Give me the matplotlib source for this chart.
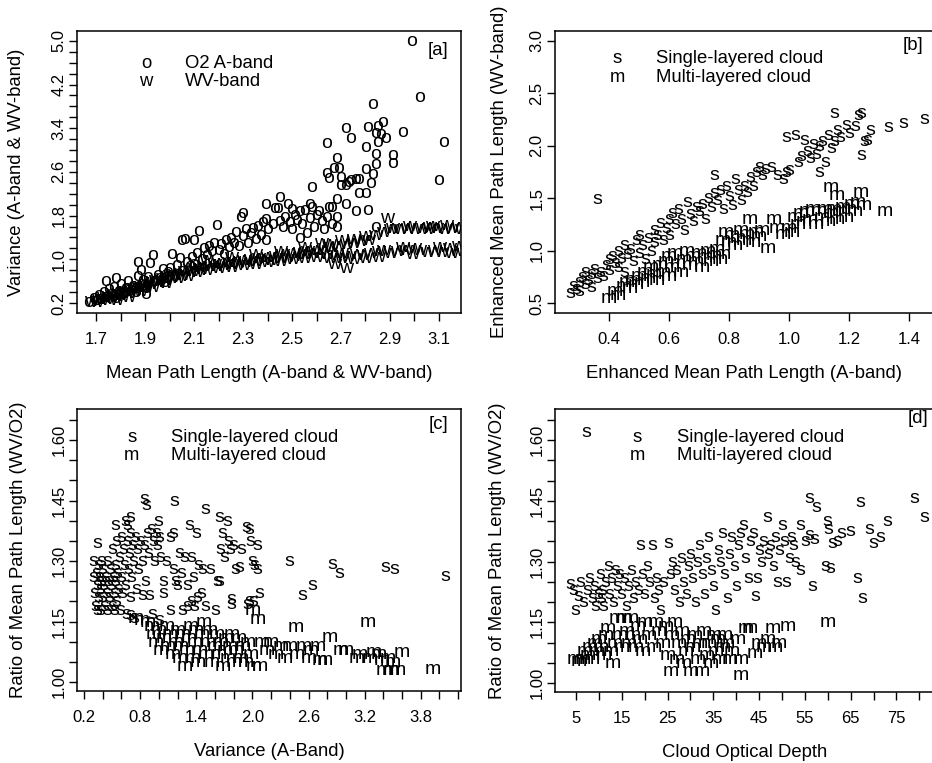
import numpy as np
import matplotlib
matplotlib.use("Agg")
import matplotlib.pyplot as plt
import matplotlib.transforms as mtransforms
from matplotlib.ticker import FixedLocator, NullFormatter

plt.rcParams['font.family'] = ['Liberation Sans', 'DejaVu Sans']

# ---------------- Panel [a] data ----------------
a_o2 = [(1.67,0.22),(1.69,0.30),(1.70,0.25),(1.71,0.35),(1.72,0.28),(1.73,0.40),(1.74,0.32),(1.74,0.60),
        (1.75,0.45),(1.76,0.36),(1.77,0.50),(1.78,0.66),(1.78,0.30),(1.79,0.42),(1.80,0.55),(1.81,0.38),
        (1.82,0.48),(1.83,0.60),(1.84,0.44),(1.85,0.52),(1.86,0.40),(1.87,0.95),(1.87,0.70),(1.88,0.80),
        (1.88,0.55),(1.89,0.62),(1.90,0.48),(1.90,0.36),(1.91,0.68),(1.92,0.93),(1.93,1.08),(1.94,0.60),
        (1.95,0.72),(1.96,0.66),(1.97,0.82),(1.98,0.58),(1.99,0.76),(2.00,0.85),(2.01,1.10),(2.02,0.70),
        (2.03,0.90),(2.04,1.02),(2.05,1.35),(2.05,0.78),(2.06,1.38),(2.07,0.95),(2.08,0.88),(2.09,1.05),
        (2.10,1.35),(2.10,0.92),(2.11,1.12),(2.12,1.52),(2.13,1.00),(2.14,1.20),(2.15,1.08),(2.16,1.25),
        (2.17,1.15),(2.18,1.30),(2.19,1.63),(2.20,1.18),(2.21,1.28),(2.22,1.10),(2.23,1.35),(2.24,1.22),
        (2.25,1.40),(2.26,1.30),(2.27,1.50),(2.28,1.25),(2.29,1.78),(2.30,1.84),(2.30,1.42),(2.31,1.55),
        (2.32,1.30),(2.33,1.48),(2.34,1.58),(2.35,1.38),(2.36,1.62),(2.37,1.45),(2.38,1.68),(2.39,1.74),
        (2.39,2.01),(2.39,1.35),(2.40,1.55),(2.42,1.65),(2.43,1.94),(2.44,1.94),(2.45,2.14),(2.45,1.70),
        (2.46,1.60),(2.47,1.78),(2.48,2.01),(2.49,1.68),(2.50,1.92),(2.50,1.55),(2.51,1.82),(2.52,1.72),
        (2.53,1.40),(2.53,1.88),(2.54,1.65),(2.55,1.90),(2.56,1.48),(2.57,2.01),(2.57,1.75),(2.58,1.96),
        (2.58,2.33),(2.59,1.60),(2.60,1.82),(2.61,1.89),(2.62,1.70),(2.63,1.55),(2.64,3.13),(2.64,2.58),
        (2.64,1.78),(2.65,2.49),(2.65,1.96),(2.66,1.96),(2.66,1.65),(2.67,2.67),(2.68,2.86),(2.68,2.10),
        (2.68,1.78),(2.68,1.59),(2.69,2.67),(2.70,2.51),(2.70,2.36),(2.72,3.40),(2.72,2.36),(2.72,2.01),
        (2.73,2.42),(2.74,3.22),(2.74,2.45),(2.76,2.48),(2.76,1.89),(2.77,2.47),(2.77,2.21),(2.80,3.06),
        (2.80,2.65),(2.80,2.21),(2.81,3.42),(2.81,1.90),(2.82,2.40),(2.83,3.85),(2.83,2.56),(2.84,3.31),
        (2.84,2.93),(2.84,2.75),(2.84,1.60),(2.85,3.44),(2.85,3.15),(2.86,3.29),(2.87,3.51),(2.88,3.22),
        (2.91,2.91),(2.91,2.76),(2.95,3.33),(2.99,5.00),(3.02,3.97),(3.10,2.45),(3.12,3.15)]

a_wv = [(1.68,0.24),(1.70,0.22),(1.71,0.28),(1.72,0.26),(1.73,0.31),(1.74,0.28),(1.75,0.33),(1.76,0.30),
        (1.77,0.36),(1.78,0.33),(1.78,0.26),(1.79,0.38),(1.80,0.35),(1.81,0.40),(1.82,0.42),(1.83,0.39),
        (1.83,0.32),(1.84,0.45),(1.85,0.47),(1.86,0.44),(1.87,0.50),(1.88,0.52),(1.88,0.42),(1.89,0.49),
        (1.90,0.55),(1.91,0.58),(1.92,0.54),(1.93,0.60),(1.93,0.50),(1.94,0.62),(1.95,0.59),(1.96,0.64),
        (1.97,0.66),(1.98,0.63),(1.98,0.56),(1.99,0.69),(2.00,0.71),(2.01,0.68),(2.02,0.74),(2.03,0.65),
        (2.04,0.76),(2.05,0.72),(2.06,0.79),(2.07,0.70),(2.08,0.82),(2.09,0.78),(2.10,0.84),(2.11,0.76),
        (2.12,0.86),(2.13,0.83),(2.14,0.88),(2.15,0.80),(2.15,0.98),(2.16,0.87),(2.18,0.91),(2.19,0.88),
        (2.20,0.93),(2.20,0.84),(2.22,0.90),(2.24,0.95),(2.25,0.92),(2.25,0.86),(2.25,1.04),(2.26,0.97),
        (2.28,0.94),(2.30,0.99),(2.30,0.90),(2.31,0.96),(2.33,1.01),(2.35,0.97),(2.35,0.92),(2.35,1.10),
        (2.36,1.03),(2.38,1.00),(2.40,1.05),(2.40,0.95),(2.41,0.99),(2.43,1.07),(2.45,1.03),(2.45,0.97),
        (2.45,1.16),(2.46,1.09),(2.48,1.05),(2.50,1.11),(2.50,1.00),(2.51,1.07),(2.53,1.13),(2.55,1.09),
        (2.55,1.02),(2.55,1.22),(2.56,1.15),(2.58,1.11),(2.60,1.17),(2.60,1.05),(2.61,1.12),(2.62,1.30),
        (2.63,1.20),(2.64,1.10),(2.65,1.02),(2.65,1.28),(2.66,1.22),(2.67,0.92),(2.68,1.08),(2.69,1.25),
        (2.70,1.12),(2.70,1.02),(2.70,1.35),(2.72,0.85),(2.72,1.28),(2.73,1.06),(2.75,1.30),(2.75,1.00),
        (2.75,1.38),(2.76,1.10),(2.78,1.33),(2.79,1.08),(2.80,1.42),(2.80,1.03),(2.81,1.36),(2.82,1.12),
        (2.84,1.45),(2.85,1.15),(2.85,1.05),(2.87,1.50),(2.87,1.18),(2.89,1.75),(2.90,1.55),(2.90,1.12),
        (2.91,1.58),(2.93,1.15),(2.94,1.55),(2.95,1.22),(2.96,1.18),(2.97,1.58),(2.98,1.62),(2.99,1.10),
        (3.00,1.55),(3.00,1.20),(3.02,1.17),(3.03,1.58),(3.05,1.13),(3.05,1.55),(3.06,1.60),(3.07,1.62),
        (3.08,1.18),(3.09,1.57),(3.10,1.22),(3.11,1.14),(3.12,1.55),(3.13,1.63),(3.14,1.20),(3.15,1.58),
        (3.15,1.12),(3.17,1.16),(3.18,1.60),(3.18,1.24),(3.19,1.55)]

# ---------------- Panel [b] data ----------------
b_single = [(0.27,0.60),(0.28,0.66),(0.29,0.63),(0.30,0.70),(0.30,0.62),(0.31,0.75),(0.32,0.68),(0.32,0.80),
            (0.33,0.72),(0.34,0.78),(0.34,0.65),(0.35,0.83),(0.36,0.74),(0.36,1.49),(0.37,0.80),(0.38,0.76),
            (0.39,0.86),(0.40,0.92),(0.40,0.82),(0.41,0.95),(0.42,0.88),(0.43,1.00),(0.43,0.84),(0.44,0.93),
            (0.45,1.05),(0.45,0.80),(0.46,0.97),(0.47,1.02),(0.48,0.90),(0.49,1.10),(0.50,0.98),(0.50,1.15),
            (0.51,1.05),(0.52,0.92),(0.53,1.12),(0.54,1.00),(0.55,1.20),(0.55,1.08),(0.56,1.15),(0.57,1.26),
            (0.58,1.10),(0.59,1.22),(0.60,1.30),(0.60,1.15),(0.61,1.36),(0.62,1.25),(0.63,1.40),(0.64,1.30),
            (0.65,1.20),(0.66,1.46),(0.67,1.35),(0.68,1.28),(0.69,1.42),(0.70,1.38),(0.71,1.45),(0.72,1.30),
            (0.73,1.50),(0.74,1.42),(0.75,1.72),(0.75,1.55),(0.76,1.48),(0.77,1.58),(0.78,1.40),(0.79,1.62),
            (0.80,1.52),(0.81,1.44),(0.82,1.68),(0.83,1.58),(0.84,1.48),(0.85,1.62),(0.86,1.56),(0.87,1.70),
            (0.88,1.62),(0.89,1.75),(0.90,1.80),(0.91,1.72),(0.92,1.78),(0.94,1.80),(0.96,1.72),(0.98,1.68),
            (0.99,1.75),(0.99,2.08),(1.00,1.77),(1.02,2.10),(1.03,1.85),(1.04,1.90),(1.05,2.06),(1.06,1.95),
            (1.07,1.88),(1.08,2.02),(1.09,1.92),(1.10,1.75),(1.10,2.00),(1.11,2.05),(1.12,1.85),(1.13,2.10),
            (1.14,1.98),(1.15,2.31),(1.15,2.05),(1.16,2.15),(1.17,2.08),(1.19,2.20),(1.20,2.12),(1.22,2.19),
            (1.23,2.29),(1.24,2.31),(1.24,1.91),(1.25,2.05),(1.26,2.06),(1.27,2.15),(1.33,2.18),(1.38,2.22),
            (1.45,2.26)]

b_multi = [(0.40,0.55),(0.42,0.62),(0.43,0.58),(0.45,0.66),(0.46,0.70),(0.47,0.64),(0.48,0.72),(0.49,0.68),
           (0.50,0.76),(0.51,0.70),(0.52,0.80),(0.53,0.74),(0.54,0.84),(0.55,0.78),(0.56,0.72),(0.57,0.86),
           (0.58,0.80),(0.59,0.90),(0.60,0.76),(0.60,0.95),(0.61,0.84),(0.62,0.98),(0.63,0.88),(0.64,0.80),
           (0.65,0.92),(0.66,1.00),(0.67,0.86),(0.68,0.95),(0.69,0.90),(0.70,0.98),(0.71,0.84),(0.72,0.94),
           (0.73,1.00),(0.74,0.90),(0.75,0.96),(0.76,1.02),(0.77,0.92),(0.78,1.10),(0.78,0.97),(0.79,1.18),
           (0.80,1.08),(0.81,1.15),(0.82,1.05),(0.83,1.12),(0.84,1.20),(0.85,1.10),(0.86,1.16),(0.87,1.30),
           (0.88,1.08),(0.89,1.18),(0.90,1.14),(0.91,1.20),(0.93,1.03),(0.95,1.30),(0.96,1.22),(0.98,1.16),
           (1.00,1.22),(1.01,1.18),(1.02,1.32),(1.03,1.25),(1.04,1.36),(1.05,1.28),(1.06,1.38),(1.07,1.30),
           (1.08,1.40),(1.09,1.25),(1.10,1.38),(1.11,1.32),(1.12,1.40),(1.13,1.28),(1.14,1.36),(1.14,1.61),
           (1.15,1.40),(1.16,1.53),(1.16,1.30),(1.17,1.38),(1.18,1.42),(1.19,1.32),(1.20,1.40),(1.21,1.45),
           (1.22,1.38),(1.23,1.46),(1.24,1.56),(1.25,1.44),(1.32,1.38)]

# ---------------- Panel [c] data ----------------
c_single = [(0.30,1.30),(0.30,1.26),(0.31,1.22),(0.32,1.19),(0.33,1.27),(0.34,1.345),(0.34,1.18),(0.34,1.24),
            (0.35,1.21),(0.35,1.29),(0.36,1.26),(0.37,1.18),(0.37,1.23),(0.38,1.30),(0.39,1.25),(0.40,1.21),
            (0.40,1.28),(0.41,1.24),(0.42,1.19),(0.43,1.26),(0.44,1.22),(0.45,1.18),(0.45,1.30),(0.46,1.25),
            (0.47,1.21),(0.48,1.28),(0.49,1.24),(0.50,1.19),(0.50,1.33),(0.51,1.26),(0.52,1.18),(0.52,1.22),
            (0.53,1.39),(0.53,1.29),(0.54,1.25),(0.55,1.20),(0.55,1.35),(0.56,1.27),(0.57,1.23),(0.58,1.31),
            (0.59,1.18),(0.60,1.36),(0.60,1.26),(0.61,1.22),(0.62,1.33),(0.63,1.29),(0.64,1.40),(0.64,1.24),
            (0.65,1.17),(0.66,1.39),(0.66,1.35),(0.67,1.28),(0.68,1.32),(0.69,1.41),(0.69,1.21),(0.69,1.166),
            (0.70,1.37),(0.71,1.26),(0.72,1.34),(0.73,1.30),(0.74,1.16),(0.75,1.36),(0.76,1.23),(0.77,1.33),
            (0.78,1.28),(0.80,1.35),(0.82,1.30),(0.82,1.215),(0.84,1.455),(0.85,1.34),(0.86,1.25),(0.87,1.44),
            (0.88,1.37),(0.89,1.32),(0.90,1.215),(0.92,1.38),(0.93,1.17),(0.94,1.35),(0.95,1.30),(0.97,1.37),
            (0.98,1.34),(0.99,1.40),(1.00,1.36),(1.00,1.155),(1.02,1.31),(1.05,1.25),(1.05,1.22),(1.08,1.30),
            (1.12,1.36),(1.12,1.18),(1.15,1.28),(1.16,1.37),(1.17,1.45),(1.18,1.25),(1.20,1.24),(1.22,1.32),
            (1.24,1.27),(1.25,1.18),(1.27,1.31),(1.30,1.24),(1.30,1.19),(1.33,1.39),(1.35,1.31),(1.35,1.20),
            (1.37,1.26),(1.38,1.19),(1.40,1.37),(1.41,1.21),(1.42,1.29),(1.45,1.22),(1.47,1.28),(1.50,1.43),
            (1.50,1.19),(1.55,1.28),(1.60,1.18),(1.62,1.25),(1.65,1.41),(1.65,1.25),(1.66,1.33),(1.68,1.37),
            (1.70,1.31),(1.73,1.40),(1.74,1.35),(1.76,1.33),(1.78,1.205),(1.78,1.195),(1.80,1.34),(1.82,1.28),
            (1.86,1.285),(1.88,1.33),(1.93,1.385),(1.95,1.195),(1.97,1.38),(1.98,1.35),(1.97,1.20),(2.00,1.30),
            (2.01,1.20),(2.02,1.29),(2.05,1.34),(2.05,1.28),(2.07,1.22),(2.39,1.30),(2.53,1.215),(2.64,1.24),
            (2.85,1.293),(2.93,1.27),(3.42,1.285),(3.52,1.28),(4.06,1.263)]

c_multi = [(0.75,1.16),(0.82,1.155),(0.88,1.15),(0.92,1.14),(0.95,1.12),(0.97,1.10),(1.00,1.13),(1.02,1.08),
           (1.05,1.11),(1.08,1.14),(1.10,1.09),(1.12,1.12),(1.15,1.07),(1.18,1.10),(1.20,1.13),(1.22,1.06),
           (1.24,1.09),(1.26,1.12),(1.28,1.04),(1.30,1.08),(1.32,1.11),(1.34,1.14),(1.36,1.06),(1.38,1.10),
           (1.40,1.13),(1.42,1.05),(1.44,1.08),(1.46,1.12),(1.48,1.15),(1.50,1.07),(1.52,1.10),(1.55,1.13),
           (1.57,1.05),(1.60,1.09),(1.62,1.12),(1.64,1.07),(1.66,1.10),(1.68,1.04),(1.70,1.08),(1.72,1.11),
           (1.74,1.06),(1.76,1.09),(1.78,1.12),(1.80,1.05),(1.82,1.08),(1.85,1.11),(1.88,1.06),(1.90,1.09),
           (1.93,1.05),(1.95,1.10),(1.98,1.07),(2.00,1.18),(2.02,1.04),(2.06,1.156),(2.08,1.04),(2.10,1.10),
           (2.15,1.08),(2.20,1.10),(2.25,1.07),(2.30,1.09),(2.35,1.06),(2.40,1.09),(2.46,1.137),(2.48,1.07),
           (2.55,1.09),(2.60,1.06),(2.62,1.08),(2.70,1.09),(2.72,1.055),(2.77,1.055),(2.83,1.112),(2.95,1.08),
           (3.00,1.08),(3.12,1.06),(3.15,1.07),(3.23,1.149),(3.25,1.06),(3.30,1.075),(3.35,1.07),(3.38,1.055),
           (3.40,1.03),(3.45,1.06),(3.48,1.03),(3.50,1.05),(3.55,1.03),(3.60,1.074),(3.93,1.032)]

# ---------------- Panel [d] data ----------------
d_single = [(3.7,1.245),(4.3,1.23),(4.8,1.18),(5.5,1.215),(6.0,1.25),(6.5,1.20),(7.2,1.62),(7.5,1.23),
            (8.0,1.26),(8.5,1.21),(9.0,1.24),(9.3,1.19),(9.8,1.22),(10.2,1.27),(10.5,1.21),(10.8,1.23),
            (11.0,1.19),(11.5,1.25),(12.0,1.29),(12.3,1.22),(12.8,1.26),(13.2,1.20),(13.5,1.28),(14.0,1.24),
            (14.5,1.27),(15.0,1.22),(15.5,1.26),(16.0,1.19),(16.5,1.24),(17.0,1.28),(17.5,1.21),(18.0,1.25),
            (18.5,1.23),(19.0,1.34),(19.5,1.27),(20.0,1.22),(20.5,1.29),(21.0,1.25),(21.6,1.34),(22.0,1.21),
            (22.5,1.26),(23.0,1.23),(23.5,1.18),(24.0,1.25),(25.1,1.345),(25.5,1.27),(26.0,1.30),(26.5,1.23),
            (27.0,1.28),(27.5,1.20),(28.0,1.31),(28.5,1.25),(29.0,1.22),(29.5,1.29),(30.0,1.32),(30.5,1.26),
            (31.0,1.20),(31.5,1.30),(32.0,1.34),(32.5,1.27),(33.0,1.22),(33.5,1.31),(34.0,1.36),(34.5,1.28),
            (35.0,1.24),(35.5,1.18),(36.0,1.33),(36.5,1.30),(37.0,1.37),(37.5,1.27),(38.0,1.21),(38.5,1.32),
            (39.0,1.36),(39.5,1.29),(40.0,1.24),(40.5,1.34),(41.0,1.37),(41.5,1.39),(42.0,1.31),(42.6,1.26),
            (43.0,1.35),(43.7,1.37),(44.2,1.215),(44.5,1.26),(45.0,1.33),(45.5,1.30),(46.0,1.35),(46.8,1.41),
            (47.0,1.32),(47.5,1.34),(48.0,1.29),(48.5,1.36),(49.0,1.25),(49.5,1.33),(50.0,1.39),(50.5,1.35),
            (51.0,1.25),(51.5,1.31),(52.0,1.36),(52.5,1.34),(53.0,1.30),(54.0,1.39),(54.0,1.28),(55.0,1.35),
            (56.0,1.365),(56.6,1.24),(57.0,1.357),(57.5,1.435),(56.0,1.457),(60.0,1.40),(60.2,1.38),(59.5,1.29),
            (60.6,1.285),(61.0,1.345),(62.0,1.35),(63.0,1.37),(65.0,1.377),(66.5,1.26),(67.0,1.447),(67.6,1.21),
            (69.0,1.38),(70.0,1.345),(71.5,1.36),(73.0,1.40),(79.0,1.457),(81.1,1.41)]

d_multi = [(4.8,1.06),(5.5,1.055),(6.5,1.06),(7.0,1.08),(7.5,1.07),(8.0,1.09),(8.5,1.06),(9.0,1.10),
           (9.5,1.08),(10.0,1.11),(10.5,1.09),(11.0,1.07),(11.5,1.12),(12.0,1.137),(12.5,1.08),(13.0,1.05),
           (13.5,1.10),(14.0,1.16),(14.5,1.12),(15.0,1.09),(15.5,1.16),(16.0,1.13),(16.5,1.10),(17.0,1.16),
           (17.5,1.12),(18.0,1.09),(18.5,1.14),(19.0,1.11),(19.5,1.08),(20.0,1.15),(21.0,1.12),(22.0,1.09),
           (22.5,1.15),(23.0,1.13),(24.0,1.10),(24.5,1.14),(25.0,1.07),(25.6,1.03),(26.0,1.12),(26.5,1.15),
           (27.0,1.06),(27.5,1.10),(28.0,1.13),(28.5,1.05),(29.0,1.08),(29.5,1.11),(30.0,1.03),(30.5,1.09),
           (31.0,1.12),(31.5,1.06),(32.0,1.10),(32.5,1.03),(33.0,1.13),(33.5,1.07),(34.0,1.10),(34.5,1.05),
           (35.0,1.12),(35.5,1.08),(36.0,1.11),(36.5,1.06),(37.0,1.09),(37.5,1.12),(38.0,1.10),(38.5,1.06),
           (39.0,1.08),(40.4,1.11),(41.0,1.06),(41.0,1.02),(42.0,1.135),(43.0,1.135),(44.0,1.075),(45.0,1.10),
           (46.0,1.09),(47.0,1.11),(48.0,1.135),(48.5,1.09),(49.4,1.10),(51.3,1.14),(60.0,1.15)]

# ---------------- ticks / labels ----------------
a_xmajor = [1.7, 1.9, 2.1, 2.3, 2.5, 2.7, 2.9, 3.1]
a_xminor = [1.8, 2.0, 2.2, 2.4, 2.6, 2.8, 3.0]
a_ymajor = [0.2, 1.0, 1.8, 2.6, 3.4, 4.2, 5.0]
a_yminor = [0.4, 0.6, 0.8, 1.2, 1.4, 1.6, 2.0, 2.2, 2.4, 2.8, 3.0, 3.2, 3.6, 3.8, 4.0, 4.4, 4.6, 4.8]
b_xmajor = [0.4, 0.6, 0.8, 1.0, 1.2, 1.4]
b_ymajor = [0.5, 1.0, 1.5, 2.0, 2.5, 3.0]
c_xmajor = [0.2, 0.8, 1.4, 2.0, 2.6, 3.2, 3.8]
c_xminor = [0.4, 0.6, 1.0, 1.2, 1.6, 1.8, 2.2, 2.4, 2.8, 3.0, 3.4, 3.6, 4.0, 4.2]
cd_ymajor = [1.00, 1.15, 1.30, 1.45, 1.60]
cd_yminor = [1.05, 1.10, 1.20, 1.25, 1.35, 1.40, 1.50, 1.55, 1.65]
d_xmajor = [5, 15, 25, 35, 45, 55, 65, 75]
d_xminor = [10, 20, 30, 40, 50, 60, 70, 80]

W, H = 932, 763
fig = plt.figure(figsize=(W / 100, H / 100), dpi=100)

def rect(l, r, t, b):
    return [l / W, (H - b) / H, (r - l) / W, (b - t) / H]

ax_a = fig.add_axes(rect(77, 461, 31, 313))
ax_b = fig.add_axes(rect(555, 934, 31, 313))
ax_c = fig.add_axes(rect(77, 461, 409, 691))
ax_d = fig.add_axes(rect(555, 934, 409, 692))

MARK = 14
TICK = 12
LAB = 13.3

def marks(ax, pts, ch):
    tr = mtransforms.offset_copy(ax.transData, fig=fig, x=0, y=-0.26 * MARK, units='points')
    for x, y in pts:
        ax.text(x, y, ch, transform=tr, ha='center', va='baseline', fontsize=MARK,
                color='black', clip_on=True)

def style(ax, xlim, ylim, xmaj, xmin, ymaj, ymin, xfmt, yfmt, xlabel, ylabel, ylab_x):
    ax.set_xlim(*xlim)
    ax.set_ylim(*ylim)
    ax.xaxis.set_major_locator(FixedLocator(xmaj))
    ax.xaxis.set_minor_locator(FixedLocator(xmin))
    ax.yaxis.set_major_locator(FixedLocator(ymaj))
    ax.yaxis.set_minor_locator(FixedLocator(ymin))
    ax.set_xticklabels([xfmt.format(v) for v in xmaj])
    ax.set_yticklabels([yfmt.format(v) for v in ymaj])
    ax.xaxis.set_minor_formatter(NullFormatter())
    ax.yaxis.set_minor_formatter(NullFormatter())
    ax.tick_params(which='both', direction='out', length=5.5, width=1.0, color='black')
    ax.tick_params(axis='x', which='major', labelsize=TICK, pad=8)
    ax.tick_params(axis='y', which='major', labelsize=TICK, pad=2, labelrotation=90)
    for lbl in ax.get_yticklabels():
        lbl.set_va('center')
    for sp in ax.spines.values():
        sp.set_linewidth(1.1)
        sp.set_color('black')
    ax.set_xlabel(xlabel, fontsize=LAB)
    ax.set_ylabel(ylabel, fontsize=LAB)
    ax.xaxis.set_label_coords(0.5, -0.185)
    ax.xaxis.label.set_va('top')
    ax.yaxis.set_label_coords(ylab_x, 0.5)

def legend(ax, sx, tx, y1, y2, c1, t1, c2, t2):
    ax.text(sx, y1, c1, transform=ax.transAxes, ha='center', va='center', fontsize=LAB)
    ax.text(tx, y1, t1, transform=ax.transAxes, ha='left', va='center', fontsize=LAB)
    ax.text(sx, y2, c2, transform=ax.transAxes, ha='center', va='center', fontsize=LAB)
    ax.text(tx, y2, t2, transform=ax.transAxes, ha='left', va='center', fontsize=LAB)

# Panel a
marks(ax_a, a_wv, 'w')
marks(ax_a, a_o2, 'o')
style(ax_a, (1.622, 3.19), (0.017, 5.18), a_xmajor, a_xminor, a_ymajor, a_yminor,
      '{:.1f}', '{:.1f}', 'Mean Path Length (A-band & WV-band)', 'Variance (A-band & WV-band)', -0.135)
legend(ax_a, 0.18, 0.281, 0.885, 0.822, 'o', 'O2 A-band', 'w', 'WV-band')
ax_a.text(0.968, 0.962, '[a]', transform=ax_a.transAxes, ha='right', va='top', fontsize=LAB)

# Panel b
marks(ax_b, b_single, 's')
marks(ax_b, b_multi, 'm')
style(ax_b, (0.22, 1.483), (0.405, 3.095), b_xmajor, [], b_ymajor, [],
      '{:.1f}', '{:.1f}', 'Enhanced Mean Path Length (A-band)', 'Enhanced Mean Path Length (WV-band)', -0.124)
legend(ax_b, 0.164, 0.267, 0.902, 0.835, 's', 'Single-layered cloud', 'm', 'Multi-layered cloud')
ax_b.text(0.972, 0.978, '[b]', transform=ax_b.transAxes, ha='right', va='top', fontsize=LAB)

# Panel c
marks(ax_c, c_single, 's')
marks(ax_c, c_multi, 'm')
style(ax_c, (0.125, 4.23), (0.978, 1.677), c_xmajor, c_xminor, cd_ymajor, cd_yminor,
      '{:.1f}', '{:.2f}', 'Variance (A-Band)', 'Ratio of Mean Path Length (WV/O2)', -0.130)
legend(ax_c, 0.143, 0.245, 0.898, 0.835, 's', 'Single-layered cloud', 'm', 'Multi-layered cloud')
ax_c.text(0.968, 0.975, '[c]', transform=ax_c.transAxes, ha='right', va='top', fontsize=LAB)

# Panel d
marks(ax_d, d_single, 's')
marks(ax_d, d_multi, 'm')
style(ax_d, (0.4, 83.2), (0.978, 1.677), d_xmajor, d_xminor, cd_ymajor, cd_yminor,
      '{:d}', '{:.2f}', 'Cloud Optical Depth', 'Ratio of Mean Path Length (WV/O2)', -0.130)
legend(ax_d, 0.217, 0.323, 0.898, 0.835, 's', 'Single-layered cloud', 'm', 'Multi-layered cloud')
ax_d.text(0.984, 0.995, '[d]', transform=ax_d.transAxes, ha='right', va='top', fontsize=LAB)

fig.savefig('out.png', dpi=100)
